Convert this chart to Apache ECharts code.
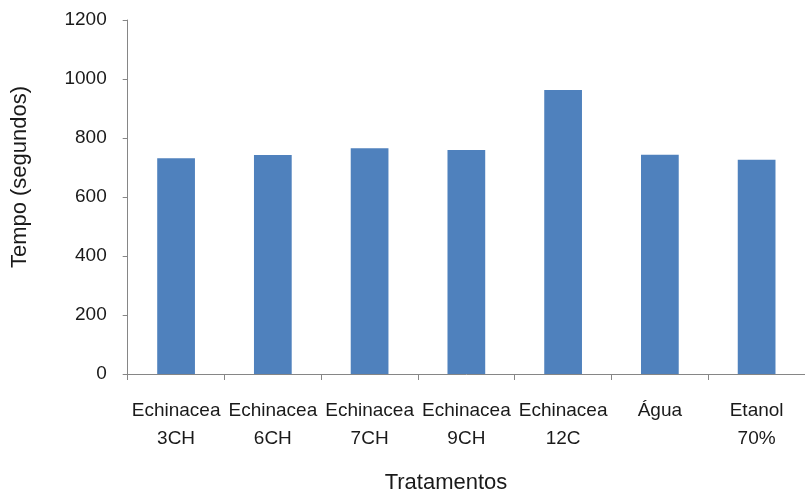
<!DOCTYPE html>
<html>
<head>
<meta charset="utf-8">
<script src="https://cdn.jsdelivr.net/npm/echarts@6/dist/echarts.min.js"></script>
<style>
  html, body { margin: 0; padding: 0; background: #fff; }
  #chart { width: 805px; height: 492px; }
</style>
</head>
<body>
<div id="chart"></div>
<script>
// Treatments on the horizontal axis
const categories = [
  'Echinacea\n3CH', 'Echinacea\n6CH', 'Echinacea\n7CH', 'Echinacea\n9CH',
  'Echinacea\n12C', 'Água', 'Etanol\n70%'
];
// Time in seconds for each treatment
const tempoValues = [731, 742, 765, 759, 963, 743, 726];
// Value axis ticks
const yTicks = [0, 200, 400, 600, 800, 1000, 1200];
const yAxisTitle = 'Tempo (segundos)';
const xAxisTitle = 'Tratamentos';

const FONT = '"Liberation Sans", Arial, sans-serif';
const TEXT = '#1a1a1a';
const AXIS = '#868686';

const chart = echarts.init(document.getElementById('chart'), null, { renderer: 'canvas' });

chart.setOption({
  animation: false,
  backgroundColor: '#ffffff',
  grid: { left: 127.7, top: 20, bottom: 118, right: -4.5 },
  xAxis: {
    type: 'category',
    data: categories,
    axisLine: { show: true, lineStyle: { color: AXIS, width: 1 } },
    axisTick: { show: true, length: 6, lineStyle: { color: AXIS } },
    axisLabel: {
      interval: 0,
      margin: 23,
      color: TEXT,
      fontFamily: FONT,
      fontSize: 19,
      lineHeight: 28
    }
  },
  yAxis: {
    type: 'value',
    min: yTicks[0],
    max: yTicks[yTicks.length - 1],
    interval: yTicks[1] - yTicks[0],
    splitLine: { show: false },
    axisLine: { show: true, lineStyle: { color: AXIS, width: 1 } },
    axisTick: { show: true, length: 5, lineStyle: { color: AXIS } },
    axisLabel: {
      margin: 21,
      color: TEXT,
      fontFamily: FONT,
      fontSize: 19,
      formatter: (v) => String(v)
    }
  },
  graphic: [
    {
      type: 'text',
      x: 20, y: 177,
      rotation: Math.PI / 2,
      style: {
        text: yAxisTitle,
        fill: TEXT,
        font: '22px ' + FONT,
        textAlign: 'center',
        textVerticalAlign: 'middle'
      }
    },
    {
      type: 'text',
      x: 446, y: 483,
      style: {
        text: xAxisTitle,
        fill: TEXT,
        font: '22px ' + FONT,
        textAlign: 'center',
        textVerticalAlign: 'middle'
      }
    }
  ],
  series: [{
    type: 'bar',
    data: tempoValues,
    barWidth: '39%',
    itemStyle: { color: '#4f81bd' }
  }]
});
</script>
</body>
</html>
